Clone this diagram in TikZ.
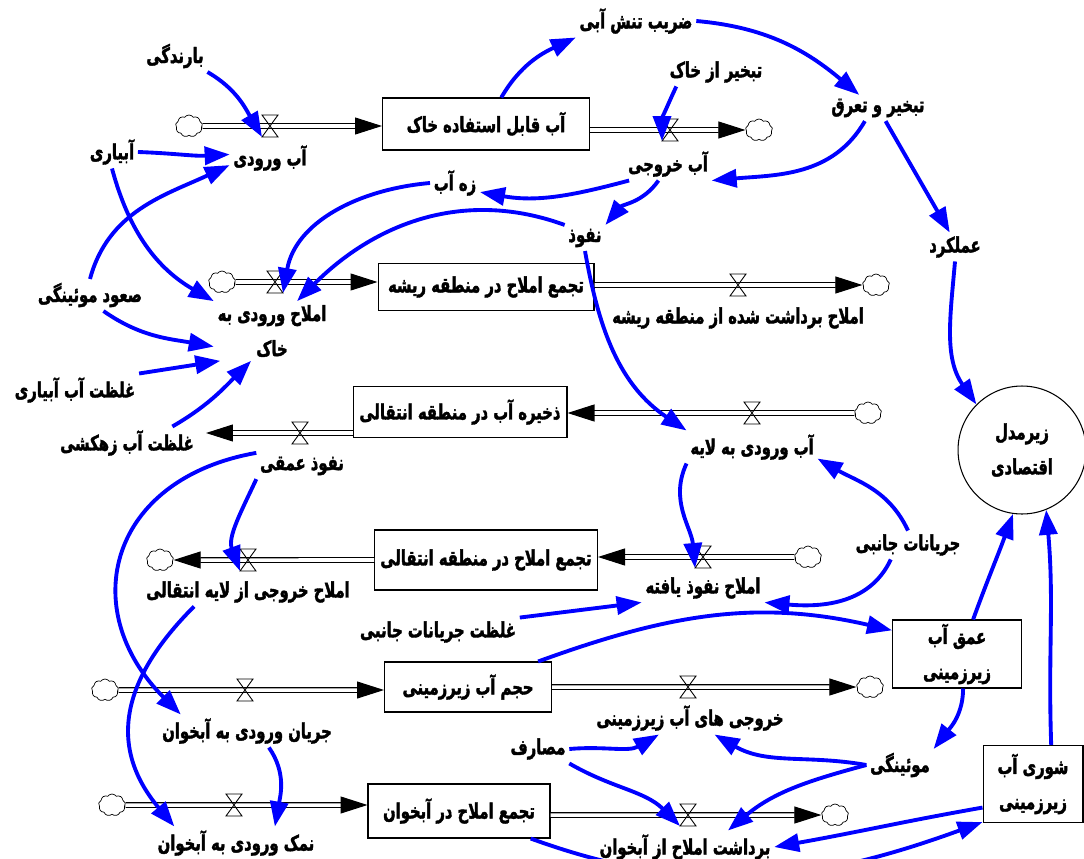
\documentclass[tikz,border=0pt]{standalone}
\usepackage{fontspec}
\newfontfamily\fa[Script=Arabic, FakeStretch=0.7, BoldFeatures={FakeBold=1.8}]{DejaVu Sans}
\TeXXeTstate=1
\usetikzlibrary{arrows.meta,shapes.symbols}
\newcommand{\rl}[1]{\beginR#1\endR}

\begin{document}
\begin{tikzpicture}[x=0.02cm,y=-0.02cm,
  lbl/.style={font=\fa\bfseries\fontsize{12}{20}\selectfont, inner sep=2pt, align=center},
  stock/.style={lbl, draw, line width=0.6pt, inner sep=0pt},
  cloudy/.style={cloud, cloud puffs=9, cloud puff arc=110, aspect=1.2, draw, line width=0.4pt,
    fill=white, minimum width=0.54cm, minimum height=0.44cm, inner sep=0pt},
  valve/.style={minimum width=0.32cm, minimum height=0.44cm, inner sep=0pt, outer sep=0pt},
  pipe/.style={double, double distance=2pt, line width=0.6pt, -{Triangle[length=0.54cm,width=0.34cm]}},
  link/.style={blue, line width=2.2pt, -{Triangle[length=0.5cm,width=0.36cm]}}]

  \clip (0,0) rectangle (1084,858);
  \fill[white] (0,0) rectangle (1084,858);

  % ذخایر
  \node[stock, minimum width=4.14cm, minimum height=1.04cm] (s1) at (486,124) {\rl{آب قابل استفاده خاک}};
  \node[stock, minimum width=4.32cm, minimum height=0.94cm] (s2) at (486,287) {\rl{تجمع املاح در منطقه ریشه}};
  \node[stock, minimum width=4.28cm, minimum height=1.02cm] (s3) at (460,412) {\rl{ذخیره آب در منطقه انتقالی}};
  \node[stock, minimum width=4.46cm, minimum height=1.2cm] (s4) at (486,560) {\rl{تجمع املاح در منطقه انتقالی}};
  \node[stock, minimum width=3.34cm, minimum height=1.0cm] (s5) at (468,687) {\rl{حجم آب زیرزمینی}};
  \node[stock, minimum width=3.64cm, minimum height=1.08cm] (s6) at (459,811) {\rl{تجمع املاح در آبخوان}};
  \node[stock, minimum width=2.58cm, minimum height=1.36cm] (s7) at (957,654) {\rl{عمق آب}\\\rl{زیرزمینی}};
  \node[stock, minimum width=2.0cm, minimum height=1.54cm] (s8) at (1033,784) {\rl{شوری آب}\\\rl{زیرزمینی}};
  \node[stock, circle, minimum size=2.56cm] (eco) at (1022,450) {\rl{زیرمدل}\\\rl{اقتصادی}};

  % ابرها
  \node[cloudy] (cl1) at (189,126) {};
  \node[cloudy] (cl2) at (759,130) {};
  \node[cloudy] (cl3) at (222,282) {};
  \node[cloudy] (cl4) at (876,285) {};
  \node[cloudy] (cl5) at (868,413) {};
  \node[cloudy] (cl7) at (160,560) {};
  \node[cloudy] (cl8) at (808,557) {};
  \node[cloudy] (cl9) at (105,690) {};
  \node[cloudy] (cl10) at (112,805) {};
  \node[cloudy] (cl11) at (870,687) {};
  \node[cloudy] (cl12) at (835,815) {};
  \coordinate (sink6) at (206,433);

  % جریان ها
  \draw[pipe] (cl1) -- (s1.west |- cl1);
  \draw[pipe] (s1.east |- cl2) -- (cl2);
  \draw[pipe] (cl3) -- (s2.west |- cl3);
  \draw[pipe] (s2.east |- cl4) -- (cl4);
  \draw[pipe] (cl5) -- (s3.east |- cl5);
  \draw[pipe] (s3.west |- sink6) -- (sink6);
  \draw[pipe] (s4.west |- cl7) -- (cl7);
  \draw[pipe] (cl8) -- (s4.east |- cl8);
  \draw[pipe] (cl9) -- (s5.west |- cl9);
  \draw[pipe] (s5.east |- cl11) -- (cl11);
  \draw[pipe] (cl10) -- (s6.west |- cl10);
  \draw[pipe] (s6.east |- cl12) -- (cl12);

  % شیرها
  \node[valve] (v1) at (270,126) {};
  \node[valve] (v2) at (670,130) {};
  \node[valve] (v3) at (275,282) {};
  \node[valve] (v4) at (738,285) {};
  \node[valve] (v5) at (752,413) {};
  \node[valve] (v6) at (300,433) {};
  \node[valve] (v7) at (248,560) {};
  \node[valve] (v8) at (703,557) {};
  \node[valve] (v9) at (245,690) {};
  \node[valve] (v10) at (234,805) {};
  \node[valve] (v11) at (688,687) {};
  \node[valve] (v12) at (688,815) {};
  \foreach \v in {v1,v2,v3,v4,v5,v6,v7,v8,v9,v10,v11,v12}
    \draw[line width=0.5pt] (\v.north west) -- (\v.north east) -- (\v.south west) -- (\v.south east) -- cycle;

  % نام نرخ ها
  \node[lbl] (lin) at (270,158) {\rl{آب ورودی}};
  \node[lbl] (lout) at (668,164) {\rl{آب خروجی}};
  \node[lbl] (lsin) at (272,331) {\rl{املاح ورودی به}\\\rl{خاک}};
  \node[lbl] (lsup) at (738,318) {\rl{املاح برداشت شده از منطقه ریشه}};
  \node[lbl] (llay) at (752,447) {\rl{آب ورودی به لایه}};
  \node[lbl] (ldeep) at (302,466) {\rl{نفوذ عمقی}};
  \node[lbl] (lsout) at (248,592) {\rl{املاح خروجی از لایه انتقالی}};
  \node[lbl] (lspen) at (703,588) {\rl{املاح نفوذ یافته}};
  \node[lbl] (lgin) at (247,731) {\rl{جریان ورودی به آبخوان}};
  \node[lbl] (lgout) at (690,718) {\rl{خروجی های آب زیرزمینی}};
  \node[lbl] (lsaq) at (236,843) {\rl{نمک ورودی به آبخوان}};
  \node[lbl] (lsrem) at (685,847) {\rl{برداشت املاح از آبخوان}};

  % متغیرهای کمکی
  \node[lbl] (rain) at (175,56) {\rl{بارندگی}};
  \node[lbl] (irr) at (112,152) {\rl{آبیاری}};
  \node[lbl] (cap) at (90,295) {\rl{صعود موئینگی}};
  \node[lbl] (irrc) at (75,390) {\rl{غلظت آب آبیاری}};
  \node[lbl] (drc) at (127,443) {\rl{غلظت آب زهکشی}};
  \node[lbl] (stress) at (636,21) {\rl{ضریب تنش آبی}};
  \node[lbl] (evs) at (716,72) {\rl{تبخیر از خاک}};
  \node[lbl] (et) at (878,108) {\rl{تبخیر و تعرق}};
  \node[lbl] (drain) at (455,183) {\rl{زه آب}};
  \node[lbl] (perc) at (585,238) {\rl{نفوذ}};
  \node[lbl] (yield) at (955,247) {\rl{عملکرد}};
  \node[lbl] (lat) at (908,545) {\rl{جریانات جانبی}};
  \node[lbl] (latc) at (438,632) {\rl{غلظت جریانات جانبی}};
  \node[lbl] (use) at (538,749) {\rl{مصارف}};
  \node[lbl] (capg) at (900,765) {\rl{موئینگی}};

  % پیوندها
  \draw[link] (rain.south east) to[out=-30,in=120] (v1.south west);
  \draw[link] (irr.east) to[out=-2,in=183] (lin.175);
  \draw[link] (cap.north) to[out=75,in=205] (lin.190);
  \draw[link] (irr.south) to[out=-75,in=150] (lsin.north west);
  \draw[link] (cap.-50) to[out=-35,in=170] (lsin.195);
  \draw[link] (irrc.north east) -- (lsin.210);
  \draw[link] (drc.20) to[out=30,in=225] (lsin.-125);
  \draw[link] (s1.60) to[out=60,in=205] (stress.south west);
  \draw[link] (stress.east) to[out=-5,in=140] (et.145);
  \draw[link] (evs.200) to[out=-115,in=90] (v2.south west);
  \draw[link] (et.-135) to[out=-120,in=5] (lout.south east);
  \draw[link] (et.-60) -- (yield.110);
  \draw[link] (yield.south) to[out=-95,in=125] (eco.135);
  \draw[link] (lout.-157) to[out=-165,in=-10] (drain.-20);
  \draw[link] (lout.-120) to[out=-125,in=50] (perc.north east);
  \draw[link] (drain.west) to[out=185,in=80] (v3.south east);
  \draw[link] (perc.north west) to[out=160,in=45] (lsin.50);
  \draw[link] (perc.south) to[out=-80,in=146] (llay.north west);
  \draw[link] (llay.south west) to[out=-115,in=95] (v8.south west);
  \draw[link] (lat.north) to[out=115,in=-30] (llay.-10);
  \draw[link] (lat.-140) to[out=-115,in=-5] (lspen.south east);
  \draw[link] (latc.north east) -- (lspen.south west);
  \draw[link] (s5.20) to[out=20,in=167] (s7.160);
  \draw[link] (s7.65) to[out=70,in=-110] (eco.-98);
  \draw[link] (s8.65) to[out=92,in=-85] (eco.-68);
  \draw[link] (s7.-80) to[out=-90,in=52] (capg.north east);
  \draw[link] (use.east) to[out=5,in=210] (lgout.-152);
  \draw[link] (use.south east) to[out=-30,in=135] (v12.south west);
  \draw[link] (capg.west) to[out=170,in=-30] (lgout.-34);
  \draw[link] (capg.west) to[out=195,in=40] (lsrem.21);
  \draw[link] (s8.205) to[out=190,in=10] (lsrem.east);
  \draw[link] (s6.-21) to[out=-20,in=200] (s8.217);
  \draw[link] (ldeep.south west) to[out=-115,in=110] (v7.south west);
  \draw[link] (ldeep.north west) to[out=190,in=135,looseness=1.4] (lgin.166);
  \draw[link] (lsout.-165) to[out=-135,in=130,looseness=1.2] (lsaq.165);
  \draw[link] (lgin.-37) to[out=-55,in=80] (lsaq.23);
\end{tikzpicture}
\end{document}
